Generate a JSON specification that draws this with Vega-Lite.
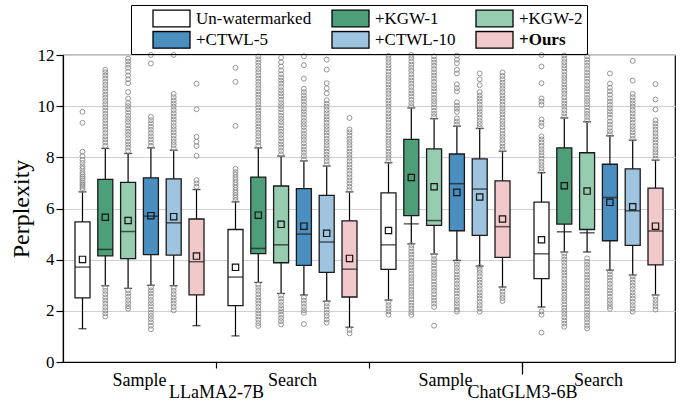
{
  "$schema": "https://vega.github.io/schema/vega-lite/v6.json",
  "width": 612,
  "height": 307,
  "autosize": {"type": "none"},
  "padding": {"left": 63, "top": 55, "right": 19, "bottom": 42},
  "background": "white",
  "config": {
    "view": {"stroke": "black", "strokeWidth": 1.2},
    "font": "Liberation Serif",
    "style": {"guide-label": {"font": "Liberation Serif", "fill": "black"}, "guide-title": {"font": "Liberation Serif", "fill": "black"}},
    "axis": {"labelFont": "Liberation Serif", "titleFont": "Liberation Serif", "labelColor": "black", "titleColor": "black", "domainColor": "black", "tickColor": "black", "titleFontWeight": "normal"},
    "legend": {
      "orient": "none", "legendX": 68, "legendY": -50, "columns": 3,
      "symbolType": "M-1,-0.45H1V0.45H-1Z", "symbolSize": 1369,
      "symbolStrokeColor": "black", "symbolStrokeWidth": 1.3,
      "labelFont": "Liberation Serif", "labelFontSize": 17, "labelColor": "black",
      "labelOffset": 5, "columnPadding": 19, "rowPadding": 2.3, "clipHeight": 19,
      "padding": 4, "strokeColor": "black", "labelLimit": 400
    }
  },
  "datasets": {
    "stats": [
      {"g": "LLaMA2-7B|Sample", "m": "Un-watermarked", "lo": 1.30, "q1": 2.51, "med": 3.71, "q3": 5.48, "hi": 6.65, "mean": 4.01},
      {"g": "LLaMA2-7B|Sample", "m": "+KGW-1", "lo": 2.98, "q1": 4.15, "med": 4.40, "q3": 7.14, "hi": 8.35, "mean": 5.66},
      {"g": "LLaMA2-7B|Sample", "m": "+KGW-2", "lo": 2.88, "q1": 4.04, "med": 5.10, "q3": 7.02, "hi": 8.15, "mean": 5.53},
      {"g": "LLaMA2-7B|Sample", "m": "+CTWL-5", "lo": 3.00, "q1": 4.20, "med": 5.70, "q3": 7.20, "hi": 8.37, "mean": 5.72},
      {"g": "LLaMA2-7B|Sample", "m": "+CTWL-10", "lo": 2.98, "q1": 4.18, "med": 5.44, "q3": 7.16, "hi": 8.28, "mean": 5.68},
      {"g": "LLaMA2-7B|Sample", "m": "+Ours", "lo": 1.42, "q1": 2.62, "med": 3.92, "q3": 5.59, "hi": 6.74, "mean": 4.14},
      {"g": "LLaMA2-7B|Search", "m": "Un-watermarked", "lo": 1.02, "q1": 2.20, "med": 3.32, "q3": 5.18, "hi": 6.26, "mean": 3.70},
      {"g": "LLaMA2-7B|Search", "m": "+KGW-1", "lo": 3.11, "q1": 4.24, "med": 4.44, "q3": 7.23, "hi": 8.37, "mean": 5.74},
      {"g": "LLaMA2-7B|Search", "m": "+KGW-2", "lo": 2.68, "q1": 3.88, "med": 4.58, "q3": 6.88, "hi": 8.05, "mean": 5.38},
      {"g": "LLaMA2-7B|Search", "m": "+CTWL-5", "lo": 2.62, "q1": 3.78, "med": 5.00, "q3": 6.78, "hi": 7.86, "mean": 5.31},
      {"g": "LLaMA2-7B|Search", "m": "+CTWL-10", "lo": 2.38, "q1": 3.50, "med": 4.69, "q3": 6.51, "hi": 7.66, "mean": 5.03},
      {"g": "LLaMA2-7B|Search", "m": "+Ours", "lo": 1.36, "q1": 2.54, "med": 3.63, "q3": 5.52, "hi": 6.65, "mean": 4.05},
      {"g": "ChatGLM3-6B|Sample", "m": "Un-watermarked", "lo": 2.42, "q1": 3.62, "med": 4.58, "q3": 6.61, "hi": 7.79, "mean": 5.14},
      {"g": "ChatGLM3-6B|Sample", "m": "+KGW-1", "lo": 4.62, "q1": 5.72, "med": 5.40, "q3": 8.70, "hi": 9.93, "mean": 7.21},
      {"g": "ChatGLM3-6B|Sample", "m": "+KGW-2", "lo": 4.22, "q1": 5.34, "med": 5.53, "q3": 8.33, "hi": 9.51, "mean": 6.85},
      {"g": "ChatGLM3-6B|Sample", "m": "+CTWL-5", "lo": 3.97, "q1": 5.13, "med": 6.97, "q3": 8.13, "hi": 9.22, "mean": 6.63},
      {"g": "ChatGLM3-6B|Sample", "m": "+CTWL-10", "lo": 3.75, "q1": 4.95, "med": 6.76, "q3": 7.94, "hi": 9.13, "mean": 6.45},
      {"g": "ChatGLM3-6B|Sample", "m": "+Ours", "lo": 2.93, "q1": 4.09, "med": 5.29, "q3": 7.08, "hi": 8.24, "mean": 5.59},
      {"g": "ChatGLM3-6B|Search", "m": "Un-watermarked", "lo": 2.15, "q1": 3.26, "med": 4.23, "q3": 6.25, "hi": 7.40, "mean": 4.78},
      {"g": "ChatGLM3-6B|Search", "m": "+KGW-1", "lo": 4.30, "q1": 5.39, "med": 5.09, "q3": 8.37, "hi": 9.54, "mean": 6.89},
      {"g": "ChatGLM3-6B|Search", "m": "+KGW-2", "lo": 4.30, "q1": 5.18, "med": 5.05, "q3": 8.18, "hi": 9.39, "mean": 6.68},
      {"g": "ChatGLM3-6B|Search", "m": "+CTWL-5", "lo": 3.59, "q1": 4.74, "med": 6.43, "q3": 7.73, "hi": 8.84, "mean": 6.24},
      {"g": "ChatGLM3-6B|Search", "m": "+CTWL-10", "lo": 3.40, "q1": 4.56, "med": 5.91, "q3": 7.55, "hi": 8.67, "mean": 6.07},
      {"g": "ChatGLM3-6B|Search", "m": "+Ours", "lo": 2.62, "q1": 3.80, "med": 5.12, "q3": 6.80, "hi": 7.89, "mean": 5.31}
    ],
    "out": [
      {"g": "LLaMA2-7B|Sample", "m": "Un-watermarked", "v": [6.72,6.8,6.88,6.95,7.02,7.1,7.18,7.25,7.33,7.42,7.55,7.65,7.78,7.9,8.05,8.22,9.35,9.78]},
      {"g": "LLaMA2-7B|Sample", "m": "+KGW-1", "v": [8.45,8.58,8.7,8.82,8.95,9.08,9.2,9.33,9.45,9.58,9.7,9.83,9.95,10.08,10.2,10.33,10.45,10.58,10.7,10.83,10.95,11.08,11.2,11.32,11.42,2.9,2.78,2.65,2.52,2.4,2.28,2.15,2.02,1.9,1.78]},
      {"g": "LLaMA2-7B|Sample", "m": "+KGW-2", "v": [8.25,8.38,8.5,8.62,8.75,8.88,9.0,9.12,9.25,9.38,9.5,9.62,9.75,9.88,10.0,10.12,10.3,10.55,10.9,11.05,11.2,11.35,11.5,11.62,11.75,11.86,2.8,2.68,2.55,2.42,2.3,2.18,2.08]},
      {"g": "LLaMA2-7B|Sample", "m": "+CTWL-5", "v": [8.45,8.58,8.7,8.82,8.95,9.08,9.2,9.33,9.45,9.58,11.67,12.0,2.92,2.8,2.68,2.55,2.42,2.3,2.18,2.05,1.92,1.8,1.68,1.55,1.42,1.28]},
      {"g": "LLaMA2-7B|Sample", "m": "+CTWL-10", "v": [8.35,8.48,8.6,8.72,8.85,8.98,9.1,9.22,9.35,9.48,9.6,9.72,9.85,9.98,10.1,10.22,10.35,10.48,12.0,2.9,2.78,2.65,2.52,2.4,2.28,2.15,2.02]},
      {"g": "LLaMA2-7B|Sample", "m": "+Ours", "v": [6.85,6.98,7.11,8.06,8.44,8.61,8.8,9.88,10.88]},
      {"g": "LLaMA2-7B|Search", "m": "Un-watermarked", "v": [6.32,6.42,6.52,6.62,6.72,6.82,6.92,7.02,7.12,7.22,7.32,7.42,7.55,9.23,10.95,11.5]},
      {"g": "LLaMA2-7B|Search", "m": "+KGW-1", "v": [8.45,8.58,8.7,8.83,8.95,9.08,9.2,9.33,9.45,9.58,9.7,9.83,9.95,10.08,10.2,10.33,10.45,10.58,10.7,10.83,10.95,11.08,11.2,11.33,11.45,11.58,11.7,11.83,11.95,3.02,2.9,2.78,2.65,2.52,2.4,2.28,2.15,2.02,1.9,1.78,1.65,1.52,1.41]},
      {"g": "LLaMA2-7B|Search", "m": "+KGW-2", "v": [8.12,8.25,8.38,8.5,8.62,8.75,8.88,9.0,9.12,9.25,9.38,9.5,9.62,9.75,9.88,10.0,10.12,10.25,10.38,10.5,10.62,10.75,10.88,11.0,11.12,11.25,11.4,11.55,11.72,11.9,2.6,2.48,2.35,2.22,2.1,1.98,1.85,1.72,1.6,1.47]},
      {"g": "LLaMA2-7B|Search", "m": "+CTWL-5", "v": [7.92,8.05,8.18,8.3,8.42,8.55,8.68,8.8,8.92,9.05,9.18,9.3,9.42,9.55,9.68,9.8,9.92,10.05,10.18,10.3,10.42,10.55,10.68,11.08,11.6,11.95,2.52,2.4,2.28,2.15,2.02,1.92,1.48]},
      {"g": "LLaMA2-7B|Search", "m": "+CTWL-10", "v": [7.72,7.85,7.98,8.1,8.22,8.35,8.48,8.6,8.72,8.85,8.98,9.1,9.22,9.35,9.48,9.6,9.72,9.85,9.98,10.1,10.23,10.5,10.7,10.9,11.43,11.82,2.3,2.18,2.05,1.92,1.8,1.66,1.54]},
      {"g": "LLaMA2-7B|Search", "m": "+Ours", "v": [6.72,6.85,6.98,7.1,7.22,7.35,7.48,7.6,7.72,7.85,7.98,8.1,8.22,8.35,8.48,8.6,8.72,8.85,8.98,9.09,9.54,1.25,1.12]},
      {"g": "ChatGLM3-6B|Sample", "m": "Un-watermarked", "v": [7.85,7.98,8.1,8.22,8.35,8.48,8.6,8.72,8.85,8.98,9.1,9.22,9.35,9.48,9.6,9.72,9.85,9.98,10.1,10.22,10.35,10.48,10.6,10.72,10.85,10.98,11.1,11.22,11.35,11.48,11.6,11.72,11.85,11.97,2.35,2.22,2.1,1.98,1.85]},
      {"g": "ChatGLM3-6B|Sample", "m": "+KGW-1", "v": [10.0,10.12,10.25,10.38,10.5,10.62,10.75,10.88,11.0,11.12,11.25,11.38,11.5,11.62,11.75,11.88,12.0,4.57,4.45,4.32,4.2,4.08,3.95,3.82,3.7,3.58,3.45,3.32,3.2,3.08,2.95,2.82,2.7,2.58,2.45,2.32,2.2,2.08,1.95,1.84]},
      {"g": "ChatGLM3-6B|Sample", "m": "+KGW-2", "v": [9.58,9.7,9.82,9.95,10.08,10.2,10.32,10.45,10.58,10.7,10.82,10.95,11.08,11.2,11.32,11.45,11.58,11.7,11.82,11.95,4.15,4.02,3.9,3.78,3.65,3.52,3.4,3.28,3.15,3.02,2.9,2.78,2.65,2.52,2.4,2.28,2.15,1.42]},
      {"g": "ChatGLM3-6B|Sample", "m": "+CTWL-5", "v": [9.28,9.4,9.52,9.78,9.9,10.02,10.15,10.58,10.7,10.85,11.28,11.42,11.68,11.82,11.98,3.92,3.8,3.68,3.55,3.42,3.3,3.18,3.05,2.92,2.8,2.68,2.55,2.42,2.3,2.18,2.05,1.97]},
      {"g": "ChatGLM3-6B|Sample", "m": "+CTWL-10", "v": [9.18,9.3,9.42,9.55,9.68,9.8,9.92,10.05,10.18,10.3,10.42,10.55,10.82,11.05,11.28,3.72,3.6,3.48,3.35,3.22,3.1,2.98,2.85,2.72,2.6,2.48,2.35,2.22,2.1,1.97]},
      {"g": "ChatGLM3-6B|Sample", "m": "+Ours", "v": [8.3,8.42,8.55,8.68,8.8,8.92,9.05,9.18,9.3,9.42,9.55,9.68,9.8,9.92,10.05,10.18,10.3,10.42,10.55,10.68,10.8,10.92,11.05,11.18,11.32,2.88,2.75,2.62,2.5,2.38]},
      {"g": "ChatGLM3-6B|Search", "m": "Un-watermarked", "v": [7.45,7.58,7.7,7.82,7.95,8.08,8.2,8.32,8.45,8.58,8.7,8.82,9.22,9.35,9.48,10.05,10.18,10.3,10.9,11.55,12.0,1.98,1.85,1.15]},
      {"g": "ChatGLM3-6B|Search", "m": "+KGW-1", "v": [9.6,9.72,9.85,9.98,10.1,10.22,10.35,10.48,10.6,10.72,10.85,10.98,11.1,11.22,11.35,11.48,11.6,11.72,11.85,11.98,4.24,4.12,4.0,3.88,3.75,3.62,3.5,3.38,3.25,3.12,3.0,2.88,2.75,2.62,2.5,2.38,2.25,2.12,2.0,1.88,1.75,1.62,1.5,1.38]},
      {"g": "ChatGLM3-6B|Search", "m": "+KGW-2", "v": [9.45,9.58,9.7,9.82,9.95,10.08,10.2,10.32,10.45,10.58,10.7,10.82,10.95,11.08,11.2,11.32,11.45,11.58,11.7,11.82,11.95,4.05,3.92,3.8,3.68,3.55,3.42,3.3,3.18,3.05,2.92,2.8,2.68,2.55,2.42,2.3,2.18,2.05,1.92,1.8,1.68,1.55,1.42,1.31]},
      {"g": "ChatGLM3-6B|Search", "m": "+CTWL-5", "v": [8.9,9.02,9.15,9.28,9.4,9.55,9.68,9.8,9.92,10.05,10.18,10.3,10.45,10.58,10.72,10.88,11.28,3.55,3.42,3.3,3.18,3.05,2.92,2.8,2.68,2.55,2.42,2.3,2.18,2.08]},
      {"g": "ChatGLM3-6B|Search", "m": "+CTWL-10", "v": [8.72,8.85,8.98,9.1,9.22,9.35,9.48,9.6,9.72,9.85,9.98,10.1,10.22,10.35,10.48,11.0,11.77,3.35,3.22,3.1,2.98,2.85,2.72,2.6,2.48,2.35,2.22,2.1,1.97]},
      {"g": "ChatGLM3-6B|Search", "m": "+Ours", "v": [7.95,8.08,8.2,8.32,8.45,8.58,8.7,8.82,8.95,9.08,9.2,9.32,9.45,9.87,10.26,10.86,2.55,2.42,2.3,2.18,2.05]}
    ],
    "models": [{"model": "LLaMA2-7B"}, {"model": "ChatGLM3-6B"}]
  },
  "layer": [
    {
      "layer": [
        {
          "data": {"name": "stats"},
          "mark": {"type": "rule", "color": "black", "strokeWidth": 1.2},
          "encoding": {
            "x": {"field": "g", "type": "nominal", "sort": null,
              "scale": {"domain": ["LLaMA2-7B|Sample", "LLaMA2-7B|Search", "ChatGLM3-6B|Sample", "ChatGLM3-6B|Search"], "paddingInner": 0, "paddingOuter": 0},
              "axis": {"orient": "bottom", "title": null, "labelAngle": 0, "bandPosition": 0, "tickSize": 6, "tickWidth": 1.2, "domainWidth": 1.2,
                "labelExpr": "split(datum.label, '|')[1]", "labelFont": "Liberation Serif", "labelFontSize": 18, "labelPadding": 3,
                "tickOpacity": {"condition": {"test": "datum.value === 'LLaMA2-7B|Sample'", "value": 0}, "value": 1}}},
            "xOffset": {"field": "m", "type": "nominal", "sort": null,
              "scale": {"domain": ["Un-watermarked", "+KGW-1", "+KGW-2", "+CTWL-5", "+CTWL-10", "+Ours"], "paddingInner": 0.342, "paddingOuter": 0.526}},
            "y": {"field": "lo", "type": "quantitative", "title": "Perplexity",
              "scale": {"domain": [0, 12], "nice": false},
              "axis": {"values": [0,1,2,3,4,5,6,7,8,9,10,11,12], "grid": true, "gridColor": "#cfcfcf", "gridWidth": 1,
                "labelExpr": "datum.value % 2 === 0 ? datum.label : ''",
                "tickSize": {"condition": {"test": "datum.value % 2 === 0", "value": 7}, "value": 4},
                "tickWidth": 1.2, "domainWidth": 1.2, "labelFont": "Liberation Serif", "labelFontSize": 17, "labelPadding": 2,
                "titleFont": "Liberation Serif", "titleFontSize": 24, "titlePadding": 4}},
            "y2": {"field": "hi"}
          }
        },
        {
          "data": {"name": "stats"},
          "mark": {"type": "bar", "stroke": "#1a1a1a", "strokeWidth": 1.3},
          "encoding": {
            "x": {"field": "g", "type": "nominal", "sort": null},
            "xOffset": {"field": "m", "type": "nominal", "sort": null},
            "y": {"field": "q1", "type": "quantitative", "title": "Perplexity", "scale": {"domain": [0, 12], "nice": false}},
            "y2": {"field": "q3"},
            "fill": {"field": "m", "type": "nominal", "sort": null,
              "scale": {"domain": ["Un-watermarked", "+CTWL-5", "+KGW-1", "+CTWL-10", "+KGW-2", "+Ours"],
                "range": ["#ffffff", "#4a8fc0", "#4c9f78", "#9fc4e0", "#96cdb1", "#f2c9cb"]},
              "legend": {"title": "\u00a0", "titleOrient": "left", "titleFont": "Liberation Serif", "titleFontSize": 17, "titlePadding": 17,
                "labelFont": "Liberation Serif",
                "labelExpr": "datum.value === '+KGW-2' ? datum.label + '\u00a0\u00a0\u00a0\u00a0\u00a0' : datum.label",
                "encode": {"labels": {"update": {"font": {"value": "Liberation Serif"}, "fontWeight": {"signal": "datum.value === '+Ours' ? 'bold' : 'normal'"}}}}}}
          }
        },
        {
          "data": {"name": "stats"},
          "mark": {"type": "tick", "color": "#1a1a1a", "thickness": 1.5, "size": 15},
          "encoding": {
            "x": {"field": "g", "type": "nominal", "sort": null},
            "xOffset": {"field": "m", "type": "nominal", "sort": null},
            "y": {"field": "med", "type": "quantitative", "title": "Perplexity", "scale": {"domain": [0, 12], "nice": false}}
          }
        },
        {
          "data": {"name": "stats"},
          "mark": {"type": "tick", "color": "black", "thickness": 1.3, "size": 8},
          "encoding": {
            "x": {"field": "g", "type": "nominal", "sort": null},
            "xOffset": {"field": "m", "type": "nominal", "sort": null},
            "y": {"field": "lo", "type": "quantitative", "title": "Perplexity", "scale": {"domain": [0, 12], "nice": false}}
          }
        },
        {
          "data": {"name": "stats"},
          "mark": {"type": "tick", "color": "black", "thickness": 1.3, "size": 8},
          "encoding": {
            "x": {"field": "g", "type": "nominal", "sort": null},
            "xOffset": {"field": "m", "type": "nominal", "sort": null},
            "y": {"field": "hi", "type": "quantitative", "title": "Perplexity", "scale": {"domain": [0, 12], "nice": false}}
          }
        },
        {
          "data": {"name": "stats"},
          "mark": {"type": "point", "shape": "square", "size": 40, "filled": false, "stroke": "#111111", "strokeWidth": 1.2, "opacity": 1},
          "encoding": {
            "x": {"field": "g", "type": "nominal", "sort": null},
            "xOffset": {"field": "m", "type": "nominal", "sort": null},
            "y": {"field": "mean", "type": "quantitative", "title": "Perplexity", "scale": {"domain": [0, 12], "nice": false}}
          }
        },
        {
          "data": {"name": "out"},
          "transform": [{"flatten": ["v"]}],
          "mark": {"type": "point", "shape": "circle", "size": 24, "filled": false, "stroke": "#8a8a8a", "strokeWidth": 0.9, "opacity": 1},
          "encoding": {
            "x": {"field": "g", "type": "nominal", "sort": null},
            "xOffset": {"field": "m", "type": "nominal", "sort": null},
            "y": {"field": "v", "type": "quantitative", "title": "Perplexity", "scale": {"domain": [0, 12], "nice": false}}
          }
        }
      ]
    },
    {
      "data": {"name": "models"},
      "mark": {"type": "point", "opacity": 0},
      "encoding": {
        "x": {"field": "model", "type": "nominal", "sort": null,
          "scale": {"domain": ["LLaMA2-7B", "ChatGLM3-6B"], "paddingInner": 0, "paddingOuter": 0.074},
          "axis": {"orient": "bottom", "title": null, "labelAngle": 0, "bandPosition": 0, "domain": false, "tickSize": 12, "tickWidth": 1.2,
            "labelFont": "Liberation Serif", "labelFontSize": 18, "labelPadding": 9,
            "tickOpacity": {"condition": {"test": "datum.value === 'LLaMA2-7B'", "value": 0}, "value": 1}}}
      }
    }
  ],
  "resolve": {"scale": {"x": "independent"}, "axis": {"x": "independent"}}
}
